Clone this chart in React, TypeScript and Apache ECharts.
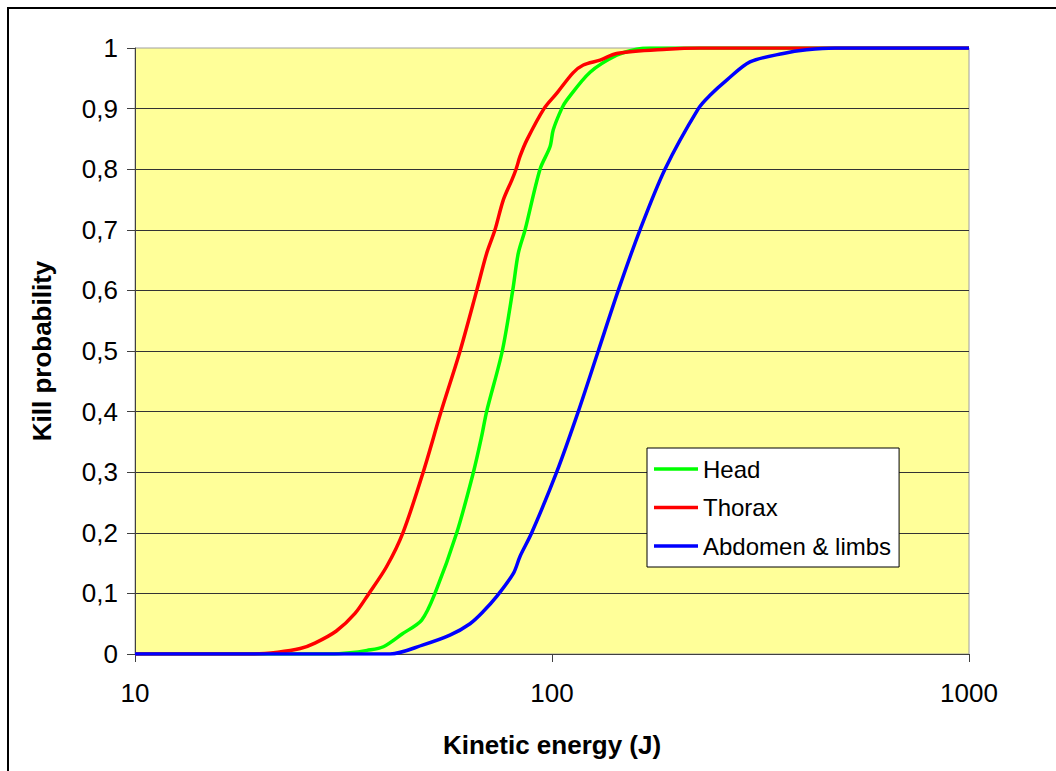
import React, { useEffect, useRef } from "react";
import * as echarts from "echarts";

// Kill probability curves against impact kinetic energy (J), log-scaled energy axis.
const seriesNames = ["Head", "Thorax", "Abdomen & limbs"];
const seriesColors = ["#00FF00", "#FF0000", "#0000FF"];

const headData: [number, number][] = [
  [10, 0], [29.4, 0], [32.8, 0.002], [36, 0.006], [39.4, 0.012], [43.7, 0.033],
  [48.7, 0.056], [52.4, 0.1], [59.1, 0.2], [64.8, 0.3], [67.8, 0.359], [69.7, 0.4],
  [76, 0.5], [80.5, 0.6], [83, 0.661], [86.2, 0.7], [93.6, 0.8], [98.9, 0.837],
  [100.7, 0.865], [105.5, 0.9], [108.5, 0.914], [123.4, 0.96], [142.9, 0.988],
  [159.6, 0.998], [171.8, 1], [1000, 1],
];

const thoraxData: [number, number][] = [
  [10, 0], [18.9, 0], [22, 0.003], [24.9, 0.009], [27, 0.018], [30.4, 0.038],
  [33.7, 0.067], [36.4, 0.1], [40.1, 0.144], [43.9, 0.2], [49.1, 0.3], [54.2, 0.4],
  [60.2, 0.5], [66, 0.6], [69.7, 0.661], [73, 0.7], [76.4, 0.749], [80.1, 0.782],
  [82, 0.8], [83.8, 0.821], [87, 0.848], [95.7, 0.9], [102.6, 0.925], [112.3, 0.959],
  [118.9, 0.972], [130.4, 0.98], [142.9, 0.991], [188.4, 0.998], [226, 1], [1000, 1],
];

const abdomenData: [number, number][] = [
  [10, 0], [40.9, 0], [49.1, 0.015], [56.9, 0.031], [63.6, 0.05], [68.4, 0.07],
  [73.7, 0.095], [80.8, 0.133], [83.8, 0.161], [89.4, 0.2], [102.6, 0.3], [115.6, 0.4],
  [129.1, 0.5], [144.2, 0.6], [162.6, 0.7], [186.6, 0.8], [224.4, 0.9], [239.3, 0.922],
  [262.4, 0.947], [298.4, 0.977], [358.6, 0.991], [408.2, 0.997], [477, 1], [1000, 1],
];

const allData = [headData, thoraxData, abdomenData];

const FONT = "'Liberation Sans', Arial, sans-serif";

function formatProbability(v: number): string {
  if (Math.abs(v) < 1e-9) return "0";
  if (Math.abs(v - 1) < 1e-9) return "1";
  return v.toFixed(1).replace(".", ",");
}

export default function App() {
  const ref = useRef<HTMLDivElement>(null);

  useEffect(() => {
    if (!ref.current) return;
    const chart = echarts.init(ref.current, undefined, { renderer: "svg" });
    chart.setOption({
      animation: false,
      backgroundColor: "#FFFFFF",
      graphic: [
        {
          type: "rect",
          z: 100,
          shape: { x: 8, y: 8, width: 1100, height: 900 },
          style: { fill: "transparent", stroke: "#000000", lineWidth: 2 },
          silent: true,
        },
      ],
      grid: {
        left: 135,
        top: 48,
        width: 834,
        height: 606,
        show: true,
        backgroundColor: "#FFFF99",
        borderColor: "#A0A0A0",
        borderWidth: 1,
      },
      legend: {
        orient: "vertical",
        left: 647,
        top: 448,
        data: seriesNames,
        icon: "rect",
        backgroundColor: "#FFFFFF",
        borderColor: "#000000",
        borderWidth: 1,
        borderRadius: 0,
        padding: [8, 8, 8, 7],
        itemWidth: 44,
        itemHeight: 3.5,
        itemGap: 12.5,
        textStyle: { fontFamily: FONT, fontSize: 24, color: "#000000", lineHeight: 26 },
      },
      xAxis: {
        type: "log",
        logBase: 10,
        min: 10,
        max: 1000,
        name: "Kinetic energy (J)",
        nameLocation: "middle",
        nameGap: 78,
        nameTextStyle: { fontFamily: FONT, fontSize: 26, fontWeight: "bold", color: "#000000" },
        axisLine: { show: true, lineStyle: { color: "#404040", width: 1 } },
        axisTick: { show: true, inside: false, length: 8, lineStyle: { color: "#404040" } },
        minorTick: { show: false },
        splitLine: { show: false },
        axisLabel: {
          fontFamily: FONT,
          fontSize: 26,
          color: "#000000",
          margin: 26,
          formatter: (v: number) => String(Math.round(v)),
        },
      },
      yAxis: {
        type: "value",
        min: 0,
        max: 1,
        interval: 0.1,
        name: "Kill probability",
        nameLocation: "middle",
        nameGap: 80,
        nameTextStyle: { fontFamily: FONT, fontSize: 26, fontWeight: "bold", color: "#000000" },
        axisLine: { show: true, lineStyle: { color: "#404040", width: 1 } },
        axisTick: { show: true, inside: false, length: 8, lineStyle: { color: "#404040" } },
        splitLine: {
          show: true,
          showMinLine: false,
          showMaxLine: false,
          lineStyle: { color: "#333333", width: 1 },
        },
        axisLabel: {
          fontFamily: FONT,
          fontSize: 26,
          color: "#000000",
          margin: 17,
          formatter: formatProbability,
        },
      },
      series: seriesNames.map((name, i) => ({
        name,
        type: "line",
        data: allData[i],
        symbol: "none",
        showSymbol: false,
        smooth: 0.3,
        clip: true,
        lineStyle: { color: seriesColors[i], width: 3.5 },
        itemStyle: { color: seriesColors[i] },
        z: 2 + i,
      })),
    });
    return () => chart.dispose();
  }, []);

  return (
    <div
      ref={ref}
      style={{ position: "absolute", left: 0, top: 0, width: 1056, height: 771 }}
    />
  );
}
